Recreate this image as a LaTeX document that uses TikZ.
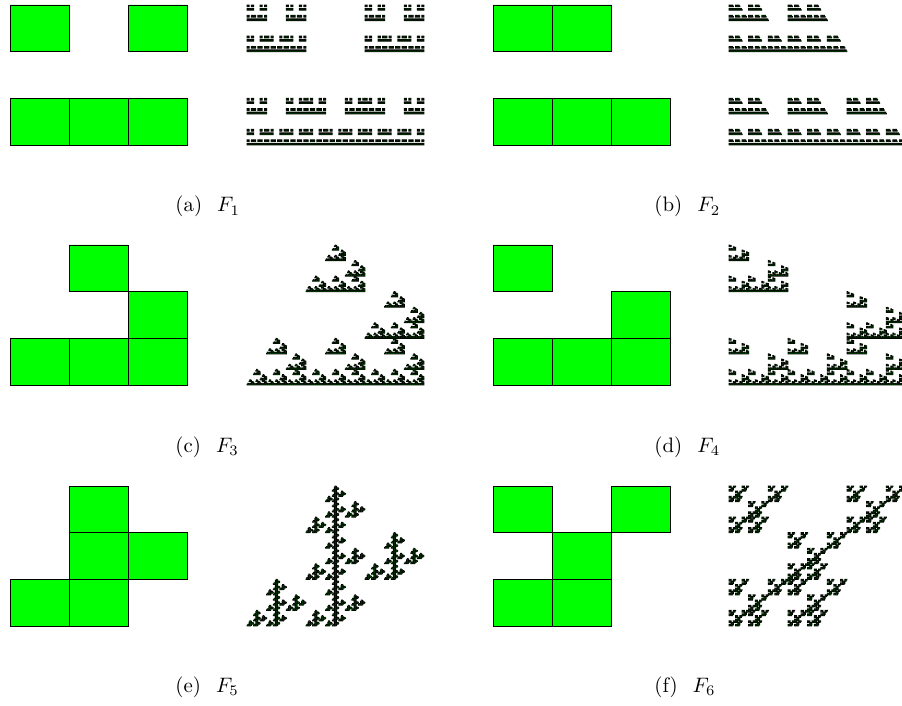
\documentclass[tikz,border=0pt]{standalone}
\definecolor{cellgreen}{RGB}{0,255,0}
\definecolor{speckgreen}{RGB}{0,70,0}
\newcommand{\inflate}{0pt}
% recursive cell subdivision: level, x, y (lower left), width, height
\def\fracrec#1#2#3#4#5{%
  \ifnum#1=0
    \pgfpathrectangle{\pgfqpoint{\dimexpr#2-\inflate\relax}{\dimexpr#3-\inflate\relax}}{\pgfqpoint{\dimexpr#4+2\dimexpr\inflate\relax\relax}{\dimexpr#5+2\dimexpr\inflate\relax\relax}}%
  \else
    \begingroup
    \edef\lvl{\the\numexpr#1-1\relax}%
    \edef\xx{\the\dimexpr#2\relax}%
    \edef\yy{\the\dimexpr#3\relax}%
    \edef\ww{\the\dimexpr#4/3\relax}%
    \edef\hh{\the\dimexpr#5/3\relax}%
    \def\C##1##2{%
      \edef\nx{\the\dimexpr\xx+##1\dimexpr\ww\relax\relax}%
      \edef\ny{\the\dimexpr\yy+\numexpr2-##2\relax\dimexpr\hh\relax\relax}%
      \fracrecB{\lvl}{\nx}{\ny}{\ww}{\hh}}%
    \cells
    \endgroup
  \fi}
\def\fracrecB#1#2#3#4#5{\fracrec{#1}{#2}{#3}{#4}{#5}}
% large cells: green with black outline
\newcommand{\bigpanel}[2]{%
  \begin{pgfscope}
    \pgfsetlinewidth{0.9pt}%
    \pgfsetfillcolor{cellgreen}%
    \pgfsetstrokecolor{black}%
    \pgfsetmiterjoin
    \renewcommand{\inflate}{0pt}%
    \fracrec{1}{#1pt}{\dimexpr705pt-#2pt-140pt\relax}{177pt}{140pt}%
    \pgfusepath{fill,stroke}%
  \end{pgfscope}}
% small cells: outlines merge into black, a little green shows
\newcommand{\smallpanel}[2]{%
  \begin{pgfscope}
    \pgfsetfillcolor{black}%
    \renewcommand{\inflate}{0.45pt}%
    \fracrec{5}{#1pt}{\dimexpr705pt-#2pt-140pt\relax}{177pt}{140pt}%
    \pgfusepath{fill}%
    \pgfsetfillcolor{speckgreen}%
    \renewcommand{\inflate}{-0.12pt}%
    \fracrec{5}{#1pt}{\dimexpr705pt-#2pt-140pt\relax}{177pt}{140pt}%
    \pgfusepath{fill}%
  \end{pgfscope}}
\newcommand{\pair}[4]{% cells, left x, right x, top y
  \def\cells{#1}%
  \bigpanel{#2}{#4}%
  \smallpanel{#3}{#4}}
\tikzset{subcap/.style={anchor=base west,inner sep=0pt,scale=2.09}}
\begin{document}
\begin{tikzpicture}[x=1pt,y=1pt]
\useasboundingbox (0,0) rectangle (902,705);
\fill[white] (0,0) rectangle (902,705);
\begin{scope}
\clip (0,0) rectangle (902,705);
\pair{\C00\C20\C02\C12\C22}{10}{247}{5}
\pair{\C00\C10\C02\C12\C22}{493}{729}{5}
\pair{\C10\C21\C02\C12\C22}{10}{247}{245}
\pair{\C00\C21\C02\C12\C22}{493}{729}{245}
\pair{\C10\C11\C21\C02\C12}{10}{247}{486}
\pair{\C00\C20\C11\C02\C12}{493}{729}{486}
\end{scope}
\node[subcap] (capa) at (175,493) {(a)\hspace{7.2pt}$F_1$};
\node[subcap] (capb) at (654,493) {(b)\hspace{7.2pt}$F_2$};
\node[subcap] (capc) at (175,253) {(c)\hspace{7.2pt}$F_3$};
\node[subcap] (capd) at (654,253) {(d)\hspace{7.2pt}$F_4$};
\node[subcap] (cape) at (175,13) {(e)\hspace{7.2pt}$F_5$};
\node[subcap] (capf) at (654,13) {(f)\hspace{7.2pt}$F_6$};
\end{tikzpicture}
\end{document}
